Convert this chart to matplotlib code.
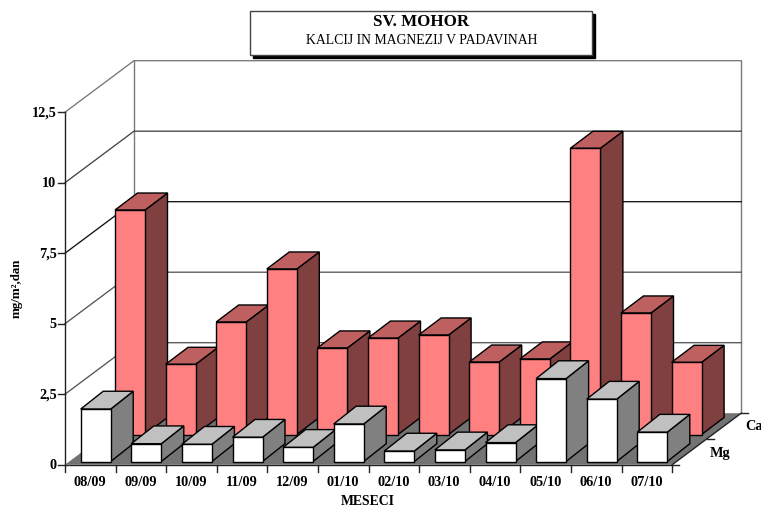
import matplotlib
matplotlib.use("Agg")
import matplotlib.pyplot as plt
from matplotlib.patches import Polygon, Rectangle

plt.rcParams['font.family'] = ['Liberation Serif', 'DejaVu Serif']

months = ["08/09", "09/09", "10/09", "11/09", "12/09", "01/10",
          "02/10", "03/10", "04/10", "05/10", "06/10", "07/10"]
ca_values = [7.96, 2.49, 3.99, 5.87, 3.07, 3.42, 3.53, 2.57, 2.68, 10.15, 4.31, 2.56]
mg_values = [1.86, 0.63, 0.61, 0.86, 0.50, 1.33, 0.37, 0.41, 0.67, 2.94, 2.21, 1.04]
y_ticks = [0, 2.5, 5, 7.5, 10, 12.5]
y_labels = ["0", "2,5", "5", "7,5", "10", "12,5"]
series_names = ["Mg", "Ca"]

W, H = 761, 508
fig = plt.figure(figsize=(W / 100, H / 100), dpi=100, facecolor="white")
ax = fig.add_axes([0, 0, 1, 1])
ax.set_xlim(0, W)
ax.set_ylim(H, 0)
ax.axis("off")

# projection
X0, Y0 = 65.0, 464.7      # front-left floor corner
CAT = 50.6                # category width
UNIT = 28.2               # px per value unit
DX, DY = 69.0, 51.5       # wall depth offset
XR = X0 + CAT * len(months)


def wall_line(v, color):
    y = Y0 - v * UNIT
    ax.plot([X0, X0 + DX, XR + DX], [y, y - DY, y - DY], color=color, lw=0.95,
            solid_joinstyle="miter", zorder=1)


# back wall
top = Y0 - 12.5 * UNIT
ax.plot([X0 + DX, X0 + DX], [Y0 - DY, top - DY], color="#7a7a7a", lw=1.0, zorder=1)
ax.plot([XR + DX, XR + DX], [Y0 - DY, top - DY], color="#7a7a7a", lw=1.0, zorder=1)
for v, c in zip(y_ticks[1:], ["#555555", "#555555", "#111111", "#444444", "#777777"]):
    wall_line(v, c)

# floor
ax.add_patch(Polygon([(X0, Y0), (X0 + DX, Y0 - DY), (XR + DX, Y0 - DY), (XR, Y0)],
                     closed=True, fc="#737373", ec="none", zorder=2))


def bar(i, value, x_off, y_base, dy, front, top_c, side):
    x1 = X0 + CAT * i + x_off
    x2 = x1 + 30.0
    yb = y_base
    yt = yb - value * UNIT
    dx = 22.5
    z = 3 + i * 0.01
    kw = dict(closed=True, ec="black", lw=1.0, joinstyle="miter", zorder=z)
    ax.add_patch(Polygon([(x2, yb), (x2 + dx, yb - dy), (x2 + dx, yt - dy), (x2, yt)], fc=side, **kw))
    ax.add_patch(Polygon([(x1, yt), (x1 + dx, yt - dy), (x2 + dx, yt - dy), (x2, yt)], fc=top_c, **kw))
    ax.add_patch(Polygon([(x1, yb), (x2, yb), (x2, yt), (x1, yt)], fc=front, **kw))


for i, v in enumerate(ca_values):
    bar(i, v, 50.0, 434.5, 17.0, "#FF8080", "#BF6060", "#804040")
for i, v in enumerate(mg_values):
    bar(i + 0, v, 15.7, 461.5, 17.8, "#FFFFFF", "#C0C0C0", "#808080")

# axes
ax.plot([X0, X0], [Y0, top], color="#222222", lw=1.0, zorder=6)
ax.plot([X0, XR], [Y0, Y0], color="#222222", lw=1.0, zorder=6)
ax.plot([XR, XR + DX], [Y0, Y0 - DY], color="#222222", lw=1.0, zorder=6)
for v, lab in zip(y_ticks, y_labels):
    y = Y0 - v * UNIT
    ax.plot([X0 - 7, X0], [y, y], color="#222222", lw=1.0, zorder=6)
    ax.text(X0 - 8.5, y + 0.5, lab, ha="right", va="center", fontsize=10.3, fontweight="bold")
for i in range(len(months) + 1):
    x = X0 + CAT * i
    ax.plot([x, x], [Y0, Y0 + 7], color="#222222", lw=1.0, zorder=6)
for i, m in enumerate(months):
    ax.text(X0 + CAT * (i + 0.5) - 0.5, 482.5, m, ha="center", va="center",
            fontsize=10.3, fontweight="bold")
for f in [0.5, 1.0]:
    x, y = XR + DX * f, Y0 - DY * f
    ax.plot([x, x + 7], [y, y], color="#222222", lw=1.0, zorder=6)
ax.plot([XR, XR + 7], [Y0, Y0], color="#222222", lw=1.0, zorder=6)
ax.text(720, 454, series_names[0], ha="center", va="center", fontsize=10.3, fontweight="bold")
ax.text(753.5, 427, series_names[1], ha="center", va="center", fontsize=10.3, fontweight="bold")

ax.text(367.5, 501.5, "MESECI", ha="center", va="center", fontsize=9.9, fontweight="bold")
ax.text(16.5, 288, "mg/m²,dan", rotation=90, ha="center", va="center", fontsize=9.4, fontweight="bold")

# title box
ax.add_patch(Rectangle((253, 14), 342, 44, fc="black", ec="black", lw=1, zorder=7))
ax.add_patch(Rectangle((250, 11), 342, 44, fc="white", ec="#444444", lw=1, zorder=8))
ax.text(421.5, 22.5, "SV. MOHOR", ha="center", va="center", fontsize=12.2, fontweight="bold", zorder=9)
ax.text(421.5, 40.5, "KALCIJ IN MAGNEZIJ V PADAVINAH", ha="center", va="center", fontsize=9.9, zorder=9)

fig.savefig("out.png", dpi=100, facecolor="white")
